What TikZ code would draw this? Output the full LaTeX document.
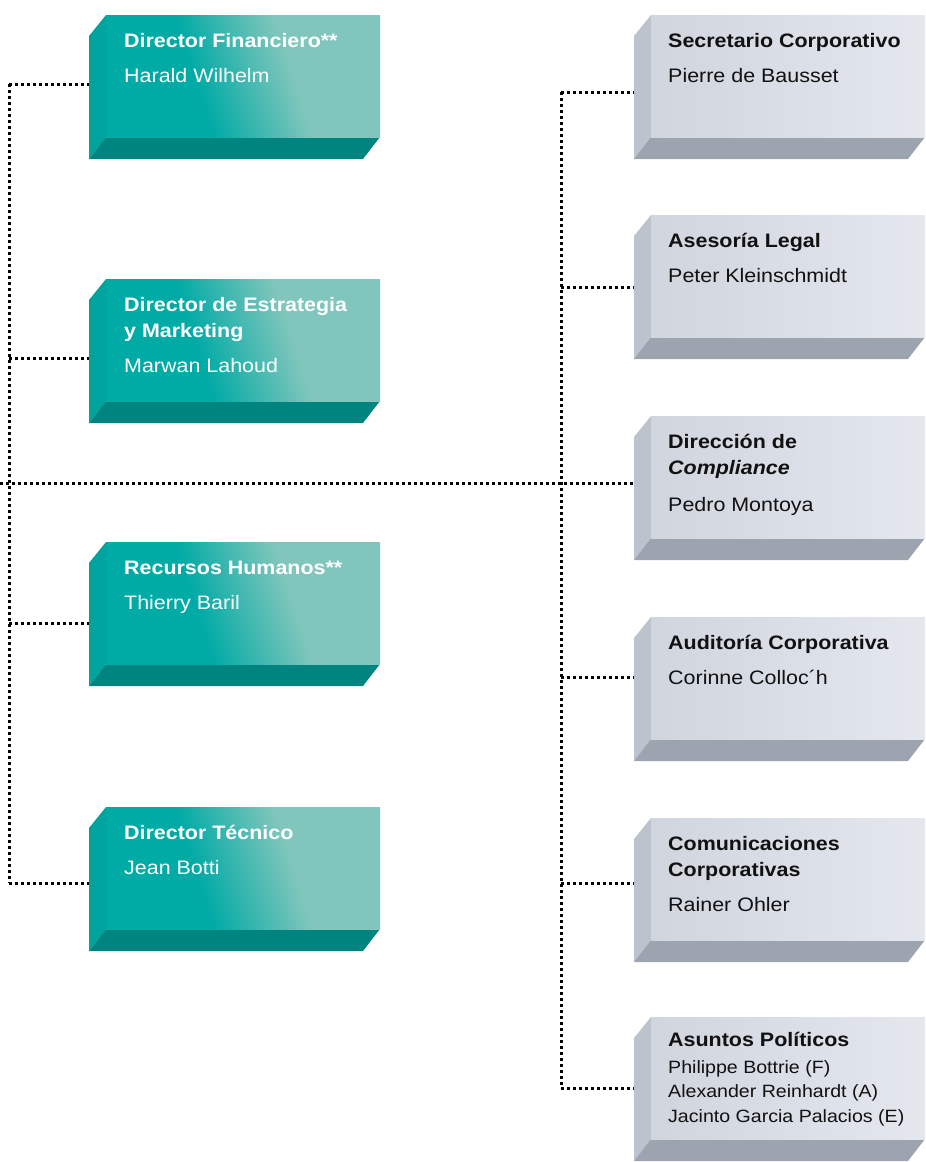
\documentclass[tikz,border=0pt]{standalone}
\usepackage{fontspec}
\setmainfont{Liberation Sans}[FakeStretch=1.1]
\usetikzlibrary{calc}
\definecolor{tealdark}{HTML}{00AAA5}
\definecolor{teallight}{HTML}{80C6BC}
\definecolor{tealside}{HTML}{00A39E}
\definecolor{tealbot}{HTML}{00847F}
\definecolor{greyL}{HTML}{D0D5DE}
\definecolor{greyR}{HTML}{E4E7EE}
\definecolor{greyside}{HTML}{BDC3CD}
\definecolor{greybot}{HTML}{9CA4AF}
\definecolor{ink}{HTML}{111111}
\pgfdeclarehorizontalshading{tealsh}{100bp}{color(0bp)=(tealdark); color(40bp)=(tealdark); color(60bp)=(teallight); color(100bp)=(teallight)}
\tikzset{
  boxarea/.style={rectangle, minimum width=291pt, minimum height=144pt, inner sep=0pt, outer sep=0pt},
  dots/.style={draw=black, line width=3pt, dash pattern=on 3pt off 3pt},
  ttl/.style={anchor=base west, inner sep=0pt, font=\fontsize{19.5}{24}\selectfont\bfseries},
  nm/.style={anchor=base west, inner sep=0pt, font=\fontsize{19.5}{24}\selectfont},
  nmsmall/.style={anchor=base west, inner sep=0pt, font=\fontsize{17.8}{22}\selectfont},
  onteal/.style={text=white},
  ongrey/.style={text=ink}
}
\newcommand\tealbox[2]{%
  \node[boxarea] (#1) at (234.5,#2+72) {};
  \fill[tealside] ($(#1.north west)+(0,21)$) -- ($(#1.north west)+(17,0)$) -- ($(#1.north west)+(17,122)$) -- (#1.south west) -- cycle;
  \fill[tealbot] ($(#1.north west)+(17,122)$) -- ($(#1.north east)+(0,122)$) -- ($(#1.south east)+(-17,0)$) -- (#1.south west) -- cycle;
  \shade[shading=tealsh, shading angle=18] ($(#1.north west)+(17,0)$) rectangle ($(#1.north east)+(0,122)$);
}
\newcommand\greybox[2]{%
  \node[boxarea] (#1) at (779.5,#2+72) {};
  \fill[greyside] ($(#1.north west)+(0,21)$) -- ($(#1.north west)+(17,0)$) -- ($(#1.north west)+(17,122)$) -- (#1.south west) -- cycle;
  \fill[greybot] ($(#1.north west)+(17,122)$) -- ($(#1.north east)+(0,122)$) -- ($(#1.south east)+(-17,0)$) -- (#1.south west) -- cycle;
  \shade[left color=greyL, right color=greyR] ($(#1.north west)+(17,0)$) rectangle ($(#1.north east)+(0,122)$);
}
\begin{document}
\begin{tikzpicture}[x=1pt, y=-1pt]
\useasboundingbox (0,0) rectangle (926,1162);
% boxes
\tealbox{fin}{15}
\tealbox{est}{279}
\tealbox{rrhh}{542}
\tealbox{tec}{807}
\greybox{sec}{15}
\greybox{leg}{215}
\greybox{comp}{416}
\greybox{aud}{617}
\greybox{com}{818}
\greybox{pol}{1017}
% connectors
\coordinate (L1) at (9,84);
\coordinate (L2) at (9,358);
\coordinate (L3) at (9,623);
\coordinate (L4) at (9,883);
\coordinate (M0) at (0,483);
\coordinate (R1) at (561,92);
\coordinate (R2) at (561,287);
\coordinate (R4) at (561,677);
\coordinate (R5) at (561,883);
\coordinate (R6) at (561,1088);
\draw[dots] (L1) -- (L4);
\draw[dots] (L1) -- (fin.west |- L1);
\draw[dots] (L2) -- (est.west |- L2);
\draw[dots] (L3) -- (rrhh.west |- L3);
\draw[dots] (L4) -- (tec.west |- L4);
\draw[dots] (M0) -- (comp.west |- M0);
\draw[dots] (R1) -- (R6);
\draw[dots] (R1) -- (sec.west |- R1);
\draw[dots] (R2) -- (leg.west |- R2);
\draw[dots] (R4) -- (aud.west |- R4);
\draw[dots] (R5) -- (com.west |- R5);
\draw[dots] (R6) -- (pol.west |- R6);
% teal texts
\node[ttl, onteal] (fin-t) at (124,47) {Director Financiero**};
\node[nm, onteal] (fin-n) at (124,82) {Harald Wilhelm};
\node[ttl, onteal] (est-t1) at (124,311) {Director de Estrategia};
\node[ttl, onteal] (est-t2) at (124,337) {y Marketing};
\node[nm, onteal] (est-n) at (124,372) {Marwan Lahoud};
\node[ttl, onteal] (rrhh-t) at (124,574) {Recursos Humanos**};
\node[nm, onteal] (rrhh-n) at (124,609) {Thierry Baril};
\node[ttl, onteal] (tec-t) at (124,839) {Director Técnico};
\node[nm, onteal] (tec-n) at (124,874) {Jean Botti};
% grey texts
\node[ttl, ongrey] (sec-t) at (668,47) {Secretario Corporativo};
\node[nm, ongrey] (sec-n) at (668,82) {Pierre de Bausset};
\node[ttl, ongrey] (leg-t) at (668,247) {Asesoría Legal};
\node[nm, ongrey] (leg-n) at (668,282) {Peter Kleinschmidt};
\node[ttl, ongrey] (comp-t1) at (668,448) {Dirección de};
\node[ttl, ongrey] (comp-t2) at (668,474) {\itshape Compliance};
\node[nm, ongrey] (comp-n) at (668,511) {Pedro Montoya};
\node[ttl, ongrey] (aud-t) at (668,649) {Auditoría Corporativa};
\node[nm, ongrey] (aud-n) at (668,684) {Corinne Colloc´h};
\node[ttl, ongrey] (com-t1) at (668,850) {Comunicaciones};
\node[ttl, ongrey] (com-t2) at (668,876) {Corporativas};
\node[nm, ongrey] (com-n) at (668,911) {Rainer Ohler};
\node[ttl, ongrey] (pol-t) at (668,1046) {Asuntos Políticos};
\node[nmsmall, ongrey] (pol-n1) at (668,1073) {Philippe Bottrie (F)};
\node[nmsmall, ongrey] (pol-n2) at (668,1097) {Alexander Reinhardt (A)};
\node[nmsmall, ongrey] (pol-n3) at (668,1122) {Jacinto Garcia Palacios (E)};
\end{tikzpicture}
\end{document}
